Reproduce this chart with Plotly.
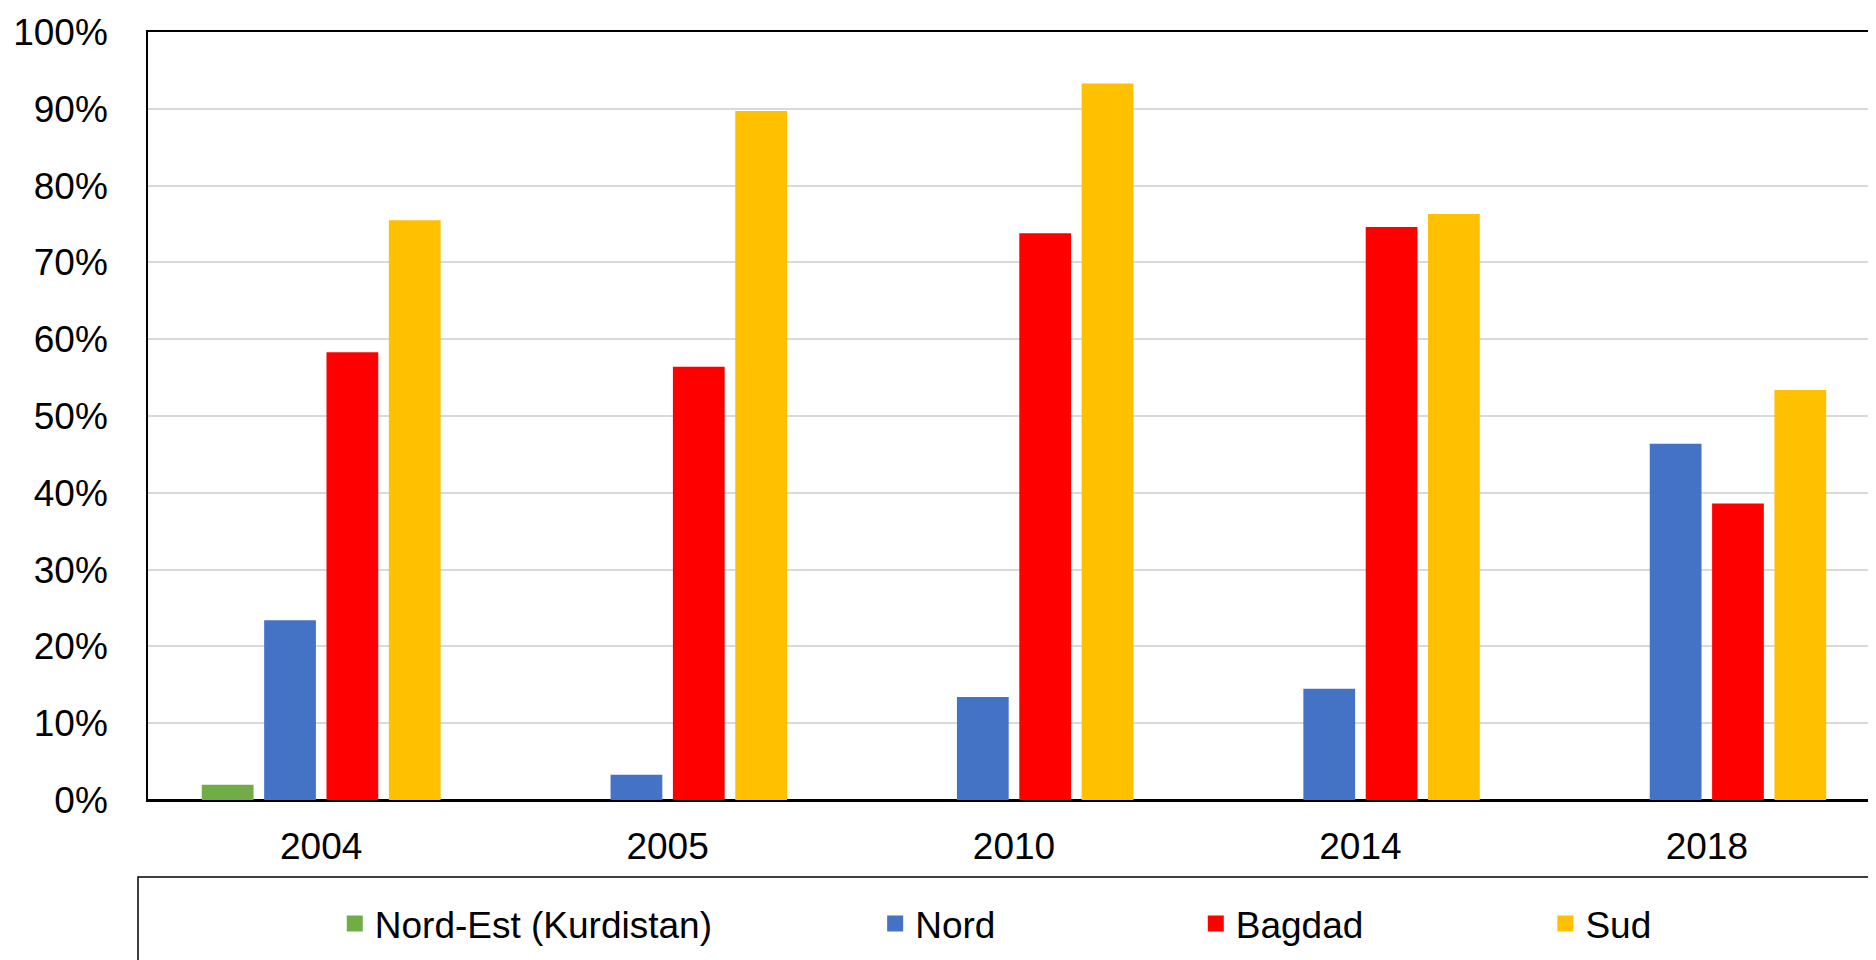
import plotly.graph_objects as go

years = ["2004", "2005", "2010", "2014", "2018"]
series_names = ["Nord-Est (Kurdistan)", "Nord", "Bagdad", "Sud"]
nord_est = [0.020, None, None, None, None]
nord = [0.234, 0.033, 0.134, 0.145, 0.464]
bagdad = [0.583, 0.564, 0.738, 0.746, 0.386]
sud = [0.755, 0.897, 0.933, 0.763, 0.534]
colors = ["#70AD47", "#4472C4", "#FF0000", "#FFC000"]
y_ticks = [0, 0.1, 0.2, 0.3, 0.4, 0.5, 0.6, 0.7, 0.8, 0.9, 1.0]

W, H = 1876, 960
ML, MR, MT, MB = 140, 2, 24, 168
PW = W - ML - MR
PH = H - MT - MB

FONT = "Liberation Sans, Arial, sans-serif"
FS = 37

fig = go.Figure()
all_vals = [nord_est, nord, bagdad, sud]
legend_ids = ["legend", "legend2", "legend3", "legend4"]
for name, vals, col, lg in zip(series_names, all_vals, colors, legend_ids):
    fig.add_trace(go.Bar(x=years, y=vals, name=name, marker=dict(color=col, line=dict(width=0)),
                         showlegend=False))
    # legend proxy (square swatch)
    fig.add_trace(go.Scatter(x=[None], y=[None], mode="markers", name=name,
                             marker=dict(symbol="square", size=20, color=col),
                             showlegend=True, legend=lg))

def px_to_paper_x(px):
    return (px - ML) / PW

def px_to_paper_y(py):
    return (H - MB - py) / PH

legend_starts = [338, 879, 1200, 1550]
leg_y = px_to_paper_y(916)
legend_common = dict(orientation="h", xanchor="left", yanchor="middle", y=leg_y,
                     bgcolor="rgba(0,0,0,0)", borderwidth=0,
                     font=dict(family=FONT, size=FS, color="black"), itemwidth=30)

layout_legends = {}
for lg, sx in zip(legend_ids, legend_starts):
    d = dict(legend_common)
    d["x"] = px_to_paper_x(sx - 11)
    layout_legends[lg] = d

fig.update_layout(
    width=W, height=H,
    margin=dict(l=ML, r=MR, t=MT, b=MB, pad=0),
    paper_bgcolor="white", plot_bgcolor="white",
    font=dict(family=FONT, size=FS, color="black"),
    barmode="group", bargap=0.28, bargroupgap=0.17,
    xaxis=dict(type="category", categoryorder="array", categoryarray=years,
               showline=True, linecolor="black", linewidth=1.5, mirror=True,
               ticks="", showgrid=False, ticklabelstandoff=13,
               tickfont=dict(family=FONT, size=FS, color="black")),
    yaxis=dict(range=[0, 1.0], tickvals=y_ticks, tickformat=".0%",
               showline=True, linecolor="black", linewidth=1.5, mirror=True,
               showgrid=True, gridcolor="#D9D9D9", gridwidth=1.5,
               zeroline=True, zerolinecolor="black", zerolinewidth=2.5,
               ticks="", ticklabelstandoff=31,
               tickfont=dict(family=FONT, size=FS, color="black")),
    shapes=[dict(type="rect", xref="paper", yref="paper",
                 x0=px_to_paper_x(130), x1=px_to_paper_x(1880),
                 y0=px_to_paper_y(869), y1=px_to_paper_y(964),
                 line=dict(color="black", width=1.5), fillcolor="rgba(0,0,0,0)", layer="below")],
    **layout_legends,
)

fig.write_html("out.html")
